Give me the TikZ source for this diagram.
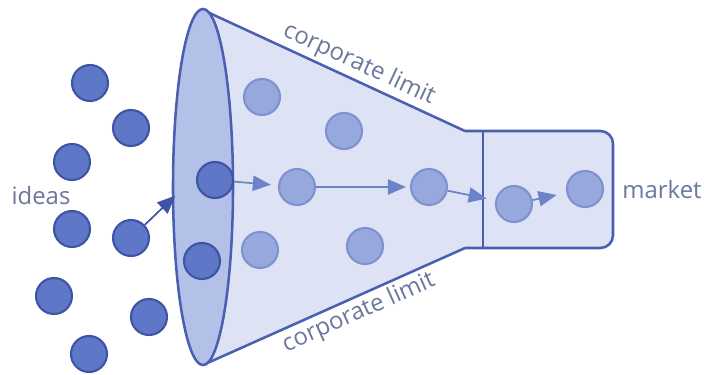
\documentclass[tikz,border=0pt]{standalone}
\usepackage{fontspec}
\setmainfont{Open Sans}
\usepackage{tikz}
\usetikzlibrary{arrows.meta,shapes.geometric}
\definecolor{conefill}{HTML}{DDE3F4}
\definecolor{mouthfill}{HTML}{B3C0E7}
\definecolor{funnelline}{HTML}{4B5FB0}
\definecolor{ideafill}{HTML}{5F77C7}
\definecolor{ideaedge}{HTML}{3E54A5}
\definecolor{dotfill}{HTML}{97A8DD}
\definecolor{dotedge}{HTML}{7F92CF}
\definecolor{arrowcol}{HTML}{6C83CA}
\definecolor{textcol}{HTML}{6B789C}
\tikzset{
  idea/.style={circle, draw=ideaedge, fill=ideafill, line width=1.5pt, minimum size=0.9cm, inner sep=0pt},
  flowdot/.style={circle, draw=dotedge, fill=dotfill, line width=1.5pt, minimum size=0.9cm, inner sep=0pt},
  flow/.style={-{Triangle[length=4.5mm,width=3.8mm]}, line width=1.2pt, draw=arrowcol, fill=arrowcol},
  txt/.style={text=textcol, font=\fontsize{17}{20}\selectfont, inner sep=2pt},
  rim/.style={draw=funnelline, line width=1.8pt}
}

\begin{document}
\begin{tikzpicture}[x=0.025cm,y=-0.025cm]
  \useasboundingbox (0,0) rectangle (708,374);

  % Draw the funnel body
  \coordinate (top) at (203,10);
  \coordinate (bot) at (203,365);
  \coordinate (necktop) at (465,131);
  \coordinate (neckbot) at (465,248);
  \fill[conefill] (top) -- (necktop) -- (483,131) -- (483,248) -- (neckbot) -- (bot) -- cycle;

  % Draw the market box
  \draw[rim, fill=conefill, rounded corners=9pt] (necktop) -- (613,131) -- (613,248) -- (neckbot);
  \draw[rim] (483,131) -- (483,248);

  % Corporate limits
  \draw[rim] (top) -- node[sloped, above, pos=0.57, txt] {corporate limit} (necktop);
  \draw[rim] (bot) -- node[sloped, below, pos=0.57, txt] {corporate limit} (neckbot);

  % The mouth of the funnel
  \node[ellipse, rim, fill=mouthfill, minimum width=1.5cm, minimum height=8.9cm, inner sep=0pt] (mouth) at (203,187) {};

  % Plot the ideas
  \foreach \x/\y/\n in {90/83/1, 131/128/2, 72/162/3, 72/229/4, 131/238/5, 54/296/6, 149/317/7, 89/354/8} {
    \node[idea] (idea\n) at (\x,\y) {};
  }
  \node[idea] (in1) at (215,180) {};
  \node[idea] (in2) at (202,261) {};

  % Plot the ideas inside the company
  \foreach \x/\y/\n in {262/97/1, 344/131/2, 297/187/3, 260/250/4, 365/246/5, 429/187/6} {
    \node[flowdot] (c\n) at (\x,\y) {};
  }
  \node[flowdot] (m1) at (514,204) {};
  \node[flowdot] (m2) at (585,189) {};

  % Arrows
  \draw[flow, draw=ideaedge, fill=ideaedge, shorten >=-0.12cm] (idea5) -- (mouth.201);
  \draw[flow, shorten >=0.18cm] (in1) -- (c3);
  \draw[flow, shorten >=0.1cm] (c3) -- (c6);
  \draw[flow, shorten >=0.22cm] (c6) -- (m1);
  \draw[flow, shorten >=0.25cm] (m1) -- (m2);

  % Labels
  \node[txt] (ideas) at (41,196) {ideas};
  \node[txt] (market) at (662,190) {market};
\end{tikzpicture}
\end{document}
